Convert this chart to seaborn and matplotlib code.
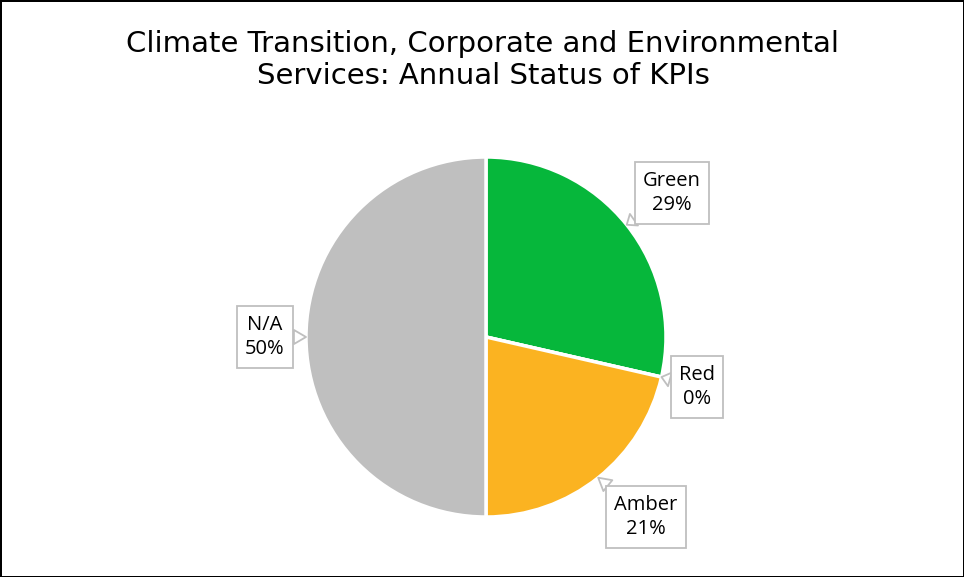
import matplotlib
matplotlib.use('Agg')
import matplotlib.pyplot as plt
import numpy as np
import seaborn as sns

# KPI counts per status
categories = ['Green', 'Red', 'Amber', 'N/A']
counts = [4, 0, 3, 7]
colours = ['#06b73b', '#e0301e', '#fbb321', '#bfbfbf']

# label box centres (pixels, from top-left)
label_pos = [(672, 193), (697, 387), (646, 517), (265, 337)]

sns.set_theme(style='white')
plt.rcParams['font.family'] = ['DejaVu Sans']

W, H = 964, 577
fig = plt.figure(figsize=(W / 100, H / 100), dpi=100, linewidth=2, edgecolor='black')
ax = fig.add_axes([0, 0, 1, 1])

cx, cy, r = 486, H - 337, 180
wedges, _ = ax.pie(counts, colors=colours, startangle=90, counterclock=False,
                   center=(cx, cy), radius=r, frame=True,
                   wedgeprops=dict(edgecolor='white', linewidth=2.5))
ax.set_xlim(0, W)
ax.set_ylim(0, H)
ax.set_aspect('equal')
ax.axis('off')

total = sum(counts)
pcts = [c / total * 100 for c in counts]
for w, name, p, (lx, ly) in zip(wedges, categories, pcts, label_pos):
    mid = np.deg2rad((w.theta1 + w.theta2) / 2)
    tip = (cx + r * np.cos(mid), cy + r * np.sin(mid))
    ax.annotate(f'{name}\n{p:.0f}%', xy=tip, xytext=(lx, H - ly),
                ha='center', va='center', fontsize=14.5, linespacing=1.3,
                family=['Open Sans', 'DejaVu Sans'], color='#000000',
                bbox=dict(boxstyle='square,pad=0.42', fc='white', ec='#bfbfbf', lw=1.3),
                arrowprops=dict(arrowstyle='wedge,tail_width=0.7', fc='white',
                                ec='#bfbfbf', lw=1.3, shrinkA=0, shrinkB=0))

fig.text(0.501, 1 - 60 / H, 'Climate Transition, Corporate and Environmental\nServices: Annual Status of KPIs',
         ha='center', va='center', fontsize=21, linespacing=1.15, color='#000000')

fig.savefig('out.png', dpi=100, edgecolor=fig.get_edgecolor())
